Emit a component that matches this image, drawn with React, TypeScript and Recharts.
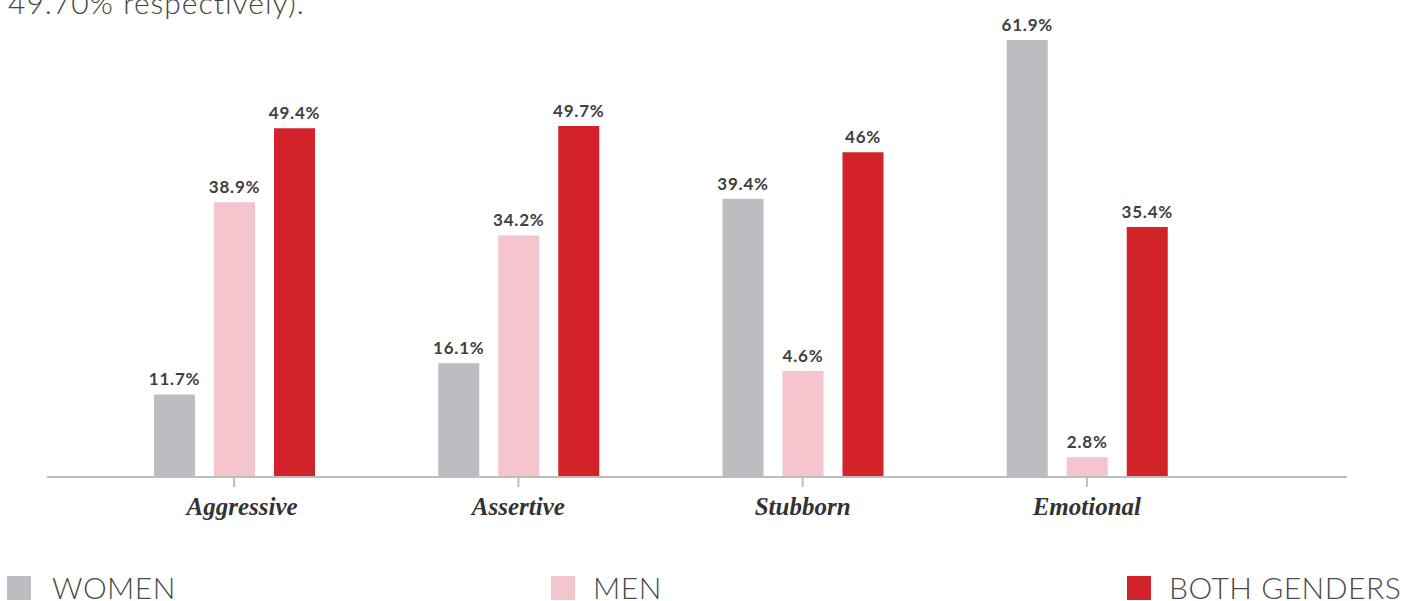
import React from 'react';
import { BarChart, Bar, XAxis, YAxis, LabelList, Legend } from 'recharts';

const categories = ['Aggressive', 'Assertive', 'Stubborn', 'Emotional'];

// bar heights as drawn in the picture (percent)
const women = [11.7, 16.1, 39.4, 61.9];
const men = [38.9, 34.2, 15.0, 2.8];
const both = [49.4, 49.7, 46, 35.4];

// labels printed above the bars
const womenLabels = ['11.7%', '16.1%', '39.4%', '61.9%'];
const menLabels = ['38.9%', '34.2%', '4.6%', '2.8%'];
const bothLabels = ['49.4%', '49.7%', '46%', '35.4%'];

const seriesNames = ['WOMEN', 'MEN', 'BOTH GENDERS'];
const colors = ['#bcbdc1', '#f4c5cc', '#d2232a'];

const data = categories.map((name, i) => ({
  name,
  women: women[i],
  men: men[i],
  both: both[i],
  womenLabel: womenLabels[i],
  menLabel: menLabels[i],
  bothLabel: bothLabels[i],
}));

const labelStyle = {
  fontFamily: 'Lato, sans-serif',
  fontWeight: 700,
  fontSize: 17,
  letterSpacing: 0.8,
  fill: '#404040',
};

const CategoryTick = (props: any) => {
  const { x, payload, index } = props;
  // the first label sits a little right of its tick in the original
  const shift = index === 0 ? 8 : 0;
  return (
    <text
      x={x + shift}
      y={515}
      textAnchor="middle"
      fontFamily="'Liberation Serif', 'Times New Roman', serif"
      fontStyle="italic"
      fontWeight="bold"
      fontSize={25}
      fill="#333"
    >
      {payload.value}
    </text>
  );
};

const legendPos = [
  { box: 7, text: 52 },
  { box: 551, text: 593 },
  { box: 1127, text: 1169 },
];

const LegendContent = () => (
  <div style={{ position: 'relative', width: 1424, height: 31 }}>
    {seriesNames.map((n, i) => (
      <React.Fragment key={n}>
        <div
          style={{
            position: 'absolute',
            left: legendPos[i].box,
            top: 6,
            width: 24,
            height: 24,
            background: colors[i],
          }}
        />
        <div
          style={{
            position: 'absolute',
            left: legendPos[i].text,
            top: 2,
            fontFamily: 'Lato, sans-serif',
            fontWeight: 300,
            fontSize: 30,
            lineHeight: '30px',
            letterSpacing: 0.5,
            color: '#4a4a4a',
            whiteSpace: 'nowrap',
          }}
        >
          {n}
        </div>
      </React.Fragment>
    ))}
  </div>
);

export default function App() {
  return (
    <div
      style={{
        position: 'absolute',
        left: 0,
        top: 0,
        width: 1424,
        height: 601,
        background: '#fff',
        overflow: 'hidden',
      }}
    >
      <div
        style={{
          position: 'absolute',
          left: 8,
          top: -13,
          fontFamily: 'Lato, sans-serif',
          fontWeight: 300,
          fontSize: 30,
          lineHeight: '30px',
          letterSpacing: 1,
          color: '#444',
          whiteSpace: 'nowrap',
        }}
      >
        49.70% respectively).
      </div>
      <BarChart
        width={1424}
        height={601}
        data={data}
        margin={{ top: 18, right: 77, left: 47, bottom: 0 }}
        barSize={41}
        barGap={19}
      >
        <XAxis
          dataKey="name"
          height={124}
          padding={{ left: 45, right: 118 }}
          axisLine={{ stroke: '#bdbdbd', strokeWidth: 2 }}
          tickLine={{ stroke: '#bdbdbd', strokeWidth: 2 }}
          tickSize={10}
          tick={<CategoryTick />}
          interval={0}
        />
        <YAxis hide domain={[0, 65]} />
        <Legend
          layout="horizontal"
          verticalAlign="middle"
          align="center"
          wrapperStyle={{ top: 570, left: 0, width: 1424, height: 31 }}
          content={<LegendContent />}
        />
        <Bar dataKey="women" name={seriesNames[0]} fill={colors[0]} isAnimationActive={false}>
          <LabelList dataKey="womenLabel" position="top" offset={9} style={labelStyle} />
        </Bar>
        <Bar dataKey="men" name={seriesNames[1]} fill={colors[1]} isAnimationActive={false}>
          <LabelList dataKey="menLabel" position="top" offset={9} style={labelStyle} />
        </Bar>
        <Bar dataKey="both" name={seriesNames[2]} fill={colors[2]} isAnimationActive={false}>
          <LabelList dataKey="bothLabel" position="top" offset={9} style={labelStyle} />
        </Bar>
      </BarChart>
    </div>
  );
}
